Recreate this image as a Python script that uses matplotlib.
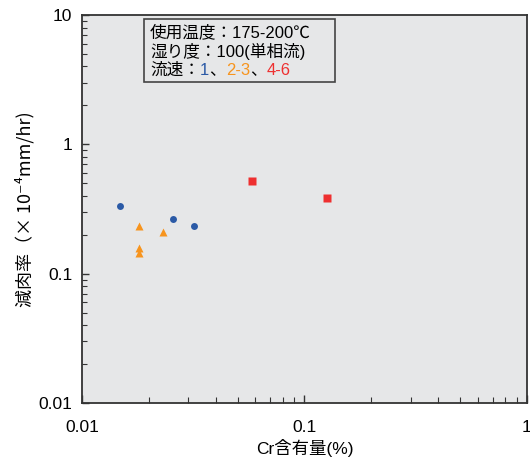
import matplotlib
matplotlib.use('Agg')
import matplotlib.pyplot as plt
from matplotlib.patches import Rectangle

plt.rcParams['font.family'] = ['Liberation Sans', 'Noto Sans CJK JP', 'DejaVu Sans']

# flow speed 1
cr_v1 = [0.0148, 0.0257, 0.0318]
rate_v1 = [0.333, 0.264, 0.233]
# flow speed 2-3
cr_v23 = [0.0180, 0.0180, 0.0180, 0.0231]
rate_v23 = [0.232, 0.158, 0.145, 0.211]
# flow speed 4-6
cr_v46 = [0.0581, 0.126]
rate_v46 = [0.52, 0.385]

blue = '#2b5aa6'
orange = '#f7941d'
red = '#ee3030'
bg = '#e6e7e8'

fig = plt.figure(figsize=(5.3, 4.65), dpi=100)
ax = fig.add_axes([0.1547, 0.1333, 0.8396, 0.8344])
ax.set_facecolor(bg)

ax.plot(cr_v1, rate_v1, 'o', color=blue, ms=5, mec='none')
ax.plot(cr_v23, rate_v23, '^', color=orange, ms=6, mec='none')
ax.plot(cr_v46, rate_v46, 's', color=red, ms=5.5, mec='none')

ax.set_xscale('log')
ax.set_yscale('log')
ax.set_xlim(0.01, 1)
ax.set_ylim(0.01, 10)
ax.set_xticks([0.01, 0.1, 1])
ax.set_xticklabels(['0.01', '0.1', '1'])
ax.set_yticks([0.01, 0.1, 1, 10])
ax.set_yticklabels(['0.01', '0.1', '1', '10'])

for s in ax.spines.values():
    s.set_color('#333333')
    s.set_linewidth(1.3)

ax.tick_params(axis='both', which='both', direction='in', color='#333333', labelsize=12.5)
ax.tick_params(axis='x', which='major', length=6, width=1, pad=12)
ax.tick_params(axis='x', which='minor', length=4, width=0.8)
ax.tick_params(axis='y', which='major', length=5, width=1, pad=7)
ax.tick_params(axis='y', which='minor', length=3.5, width=0.8)

ax.set_xlabel('Cr含有量(%)', fontsize=12.5, labelpad=3)
ax.set_ylabel('減肉率（× 10⁻⁴mm/hr)', fontsize=13, labelpad=3,
              family=['Noto Sans CJK JP', 'DejaVu Sans'])

# condition box
ax.add_patch(Rectangle((0.139, 0.827), 0.43, 0.163, transform=ax.transAxes,
                       facecolor='none', edgecolor='#444444', lw=1.2))
fs = 12
ax.text(0.153, 0.956, '使用温度：175-200℃', transform=ax.transAxes, fontsize=fs, va='center')
ax.text(0.153, 0.907, '湿り度：100(単相流)', transform=ax.transAxes, fontsize=fs, va='center')

parts = [('流速：', 'black'), ('1', blue), ('、', 'black'), ('2-3', orange),
         ('、', 'black'), ('4-6', red)]
prev = ax.text(0.153, 0.858, parts[0][0], transform=ax.transAxes, fontsize=fs,
               va='center', color=parts[0][1])
for txt, col in parts[1:]:
    prev = ax.annotate(txt, xy=(1, 0.5), xycoords=prev, fontsize=fs,
                       va='center', ha='left', color=col)

fig.savefig('out.png', dpi=100)
